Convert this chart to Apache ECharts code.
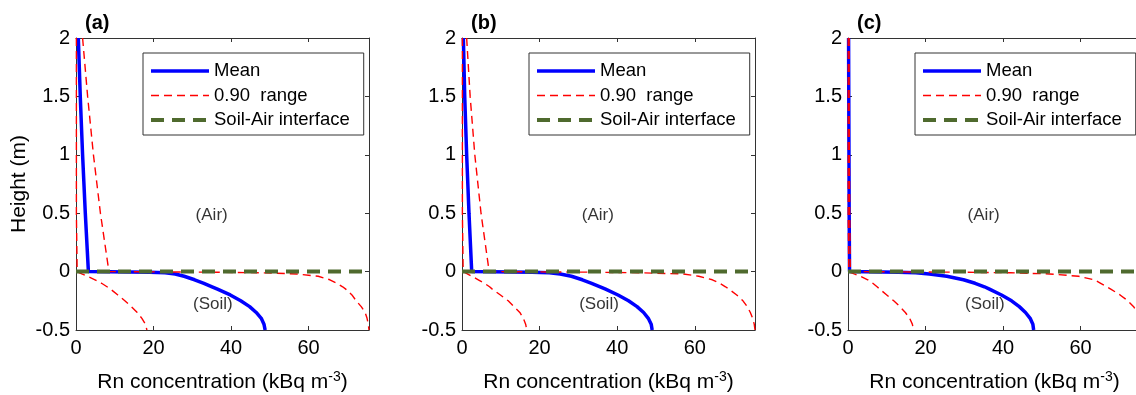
<!DOCTYPE html>
<html>
<head>
<meta charset="utf-8">
<script src="https://cdn.jsdelivr.net/npm/echarts@6/dist/echarts.min.js"></script>
<style>
  html, body { margin: 0; padding: 0; background: #fff; }
  #main { width: 1136px; height: 395px; }
</style>
</head>
<body>
<div id="main"></div>
<script>
// heights (m) shared by every curve
const heights = [2, 1.5, 1, 0.5, 0, -0.005, -0.01, -0.02, -0.04, -0.07, -0.1, -0.13, -0.15, -0.2, -0.25, -0.3, -0.35, -0.4, -0.45, -0.5];

// (a)
const meanA = [0.6, 1.1, 1.7, 2.4, 3.2, 19, 23, 25.6, 27.9, 30.6, 33, 35.1, 36.5, 39.8, 42.5, 44.8, 46.5, 47.8, 48.5, 48.8];
const lowA  = [0.1, 0.1, 0.1, 0.1, 0.3, 0.6, 0.9, 1.5, 2.9, 4.9, 6.6, 8.0, 8.9, 10.8, 12.6, 14.3, 15.8, 17, 17.9, 18.3];
const highA = [1.7, 3, 4.5, 6.3, 8.5, 35, 48, 57, 62.5, 65.5, 67.3, 68.8, 69.6, 71.2, 72.3, 73.6, 74.6, 75.1, 75.4, 75.6];
// (b)
const meanB = [0.35, 0.7, 1.2, 1.8, 2.5, 18, 22.5, 25.3, 28.2, 31, 33.4, 35.6, 37, 40.2, 42.9, 45.1, 46.8, 48, 48.75, 49];
const lowB  = [0.1, 0.1, 0.1, 0.1, 0.3, 0.6, 0.9, 1.4, 2.5, 4.2, 5.8, 7.1, 7.8, 9.9, 11.9, 13.4, 14.9, 15.8, 16.4, 16.7];
const highB = [1.2, 2.1, 3.3, 4.9, 7, 33, 46, 57, 61, 64.5, 66.4, 67.9, 68.8, 70.8, 72.4, 73.5, 74.3, 74.9, 75.3, 75.5];
// (c)
const meanC = [0.15, 0.2, 0.25, 0.3, 0.4, 13, 17.5, 21, 25.5, 29.8, 32.8, 35.2, 36.5, 39.6, 42.2, 44.2, 45.8, 47, 47.7, 47.9];
const lowC  = [0.05, 0.05, 0.05, 0.05, 0.2, 0.5, 0.9, 1.6, 3.2, 5.1, 6.4, 7.5, 8.2, 10, 11.8, 13.4, 14.8, 15.9, 16.6, 16.9];
const highC = [0.3, 0.3, 0.35, 0.45, 0.6, 28, 42, 52, 59.5, 63.5, 65.2, 66.8, 67.8, 70.2, 72.2, 73.7, 74.6, 75.1, 75.4, 75.6];

const xMax = [75.6, 75.5, 75.6];
const panelNames = ['(a)', '(b)', '(c)'];
const legendNames = ['Mean', '0.90  range', 'Soil-Air interface'];

const panels = [
  { mean: meanA, low: lowA, high: highA },
  { mean: meanB, low: lowB, high: highB },
  { mean: meanC, low: lowC, high: highC }
];

const FONT = "'Liberation Sans', Arial, sans-serif";
const gridLeft = [76, 462, 848];
const axisColor = '#333';

const pairs = (xs) => xs.map((x, i) => [x, heights[i]]);

const chart = echarts.init(document.getElementById('main'));

const grids = [], xAxes = [], yAxes = [], series = [], titles = [], legends = [];

const boxLine = { show: true, onZero: false, lineStyle: { color: axisColor, width: 1 } };
const boxTick = { show: true, inside: true, length: 4, lineStyle: { color: axisColor } };

panels.forEach((p, i) => {
  grids.push({ left: gridLeft[i], top: 38, width: 293, height: 292, outerBoundsMode: 'none', containLabel: false });

  titles.push({
    text: panelNames[i], left: gridLeft[i] + 9, top: 13, padding: 0,
    textStyle: { fontFamily: FONT, fontSize: 20, fontWeight: 'bold', color: '#000' }
  });

  legends.push({
    data: legendNames,
    orient: 'vertical',
    left: gridLeft[i] + 67, top: 53,
    padding: [8, 14, 5, 6],
    itemWidth: 58, itemHeight: 14, itemGap: 4.5,
    backgroundColor: '#fff',
    borderColor: axisColor, borderWidth: 1,
    selectedMode: false,
    itemStyle: { opacity: 0 },
    lineStyle: { width: 'inherit' },
    textStyle: { fontFamily: FONT, fontSize: 18.5, color: '#000', lineHeight: 20 }
  });

  xAxes.push({
    type: 'value', gridIndex: i, position: 'bottom', min: 0, max: xMax[i], interval: 20,
    name: 'Rn concentration (kBq m{sup|-3})',
    nameLocation: 'middle', nameGap: 40,
    nameTextStyle: {
      fontFamily: FONT, fontSize: 21, color: '#000',
      rich: { sup: { fontFamily: FONT, fontSize: 14, color: '#000', verticalAlign: 'top', padding: [0, 0, 10, 0] } }
    },
    axisLine: boxLine, axisTick: boxTick,
    axisLabel: { fontFamily: FONT, fontSize: 20, color: '#000', margin: 8, showMaxLabel: false },
    splitLine: { show: false }
  });

  yAxes.push({
    type: 'value', gridIndex: i, position: 'left', min: -0.5, max: 2, interval: 0.5,
    name: i === 0 ? 'Height (m)' : '',
    nameLocation: 'middle', nameGap: 46, nameRotate: 90,
    nameTextStyle: { fontFamily: FONT, fontSize: 21, color: '#000' },
    axisLine: boxLine, axisTick: boxTick,
    axisLabel: { fontFamily: FONT, fontSize: 20, color: '#000', margin: 6 },
    splitLine: { show: false }
  });

  series.push({
    name: 'Mean', type: 'line', xAxisIndex: i, yAxisIndex: i,
    data: pairs(p.mean), symbol: 'none',
    lineStyle: { color: '#0000ff', width: 3.5 }, itemStyle: { color: '#0000ff' }, z: 2
  });
  [p.low, p.high].forEach((curve) => {
    series.push({
      name: '0.90  range', type: 'line', xAxisIndex: i, yAxisIndex: i,
      data: pairs(curve), symbol: 'none',
      lineStyle: { color: '#ff0000', width: 1.4, type: [8, 5] }, itemStyle: { color: '#ff0000' }, z: 3
    });
  });
  series.push({
    name: 'Soil-Air interface', type: 'line', xAxisIndex: i, yAxisIndex: i,
    data: [[0, 0], [xMax[i], 0]], symbol: 'none',
    lineStyle: { color: '#4f6a2e', width: 4, type: [13, 8] }, itemStyle: { color: '#4f6a2e' }, z: 4
  });
  series.push({
    name: 'zones', type: 'scatter', xAxisIndex: i, yAxisIndex: i,
    symbolSize: 1, itemStyle: { color: 'rgba(0,0,0,0)' }, silent: true,
    data: [{ name: '(Air)', value: [35, 0.48] }, { name: '(Soil)', value: [35.3, -0.28] }],
    label: { show: true, position: 'inside', formatter: '{b}', fontFamily: FONT, fontSize: 17, color: '#000' }
  });
});

// mirrored box axes (top and right), ticks only
panels.forEach((p, i) => {
  xAxes.push({
    type: 'value', gridIndex: i, position: 'top', min: 0, max: xMax[i], interval: 20,
    axisLine: boxLine, axisTick: boxTick,
    axisLabel: { show: false }, splitLine: { show: false }
  });
  yAxes.push({
    type: 'value', gridIndex: i, position: 'right', min: -0.5, max: 2, interval: 0.5,
    axisLine: boxLine, axisTick: boxTick,
    axisLabel: { show: false }, splitLine: { show: false }
  });
});

chart.setOption({
  animation: false,
  backgroundColor: '#fff',
  title: titles,
  legend: legends,
  grid: grids,
  xAxis: xAxes,
  yAxis: yAxes,
  series: series
});
</script>
</body>
</html>
